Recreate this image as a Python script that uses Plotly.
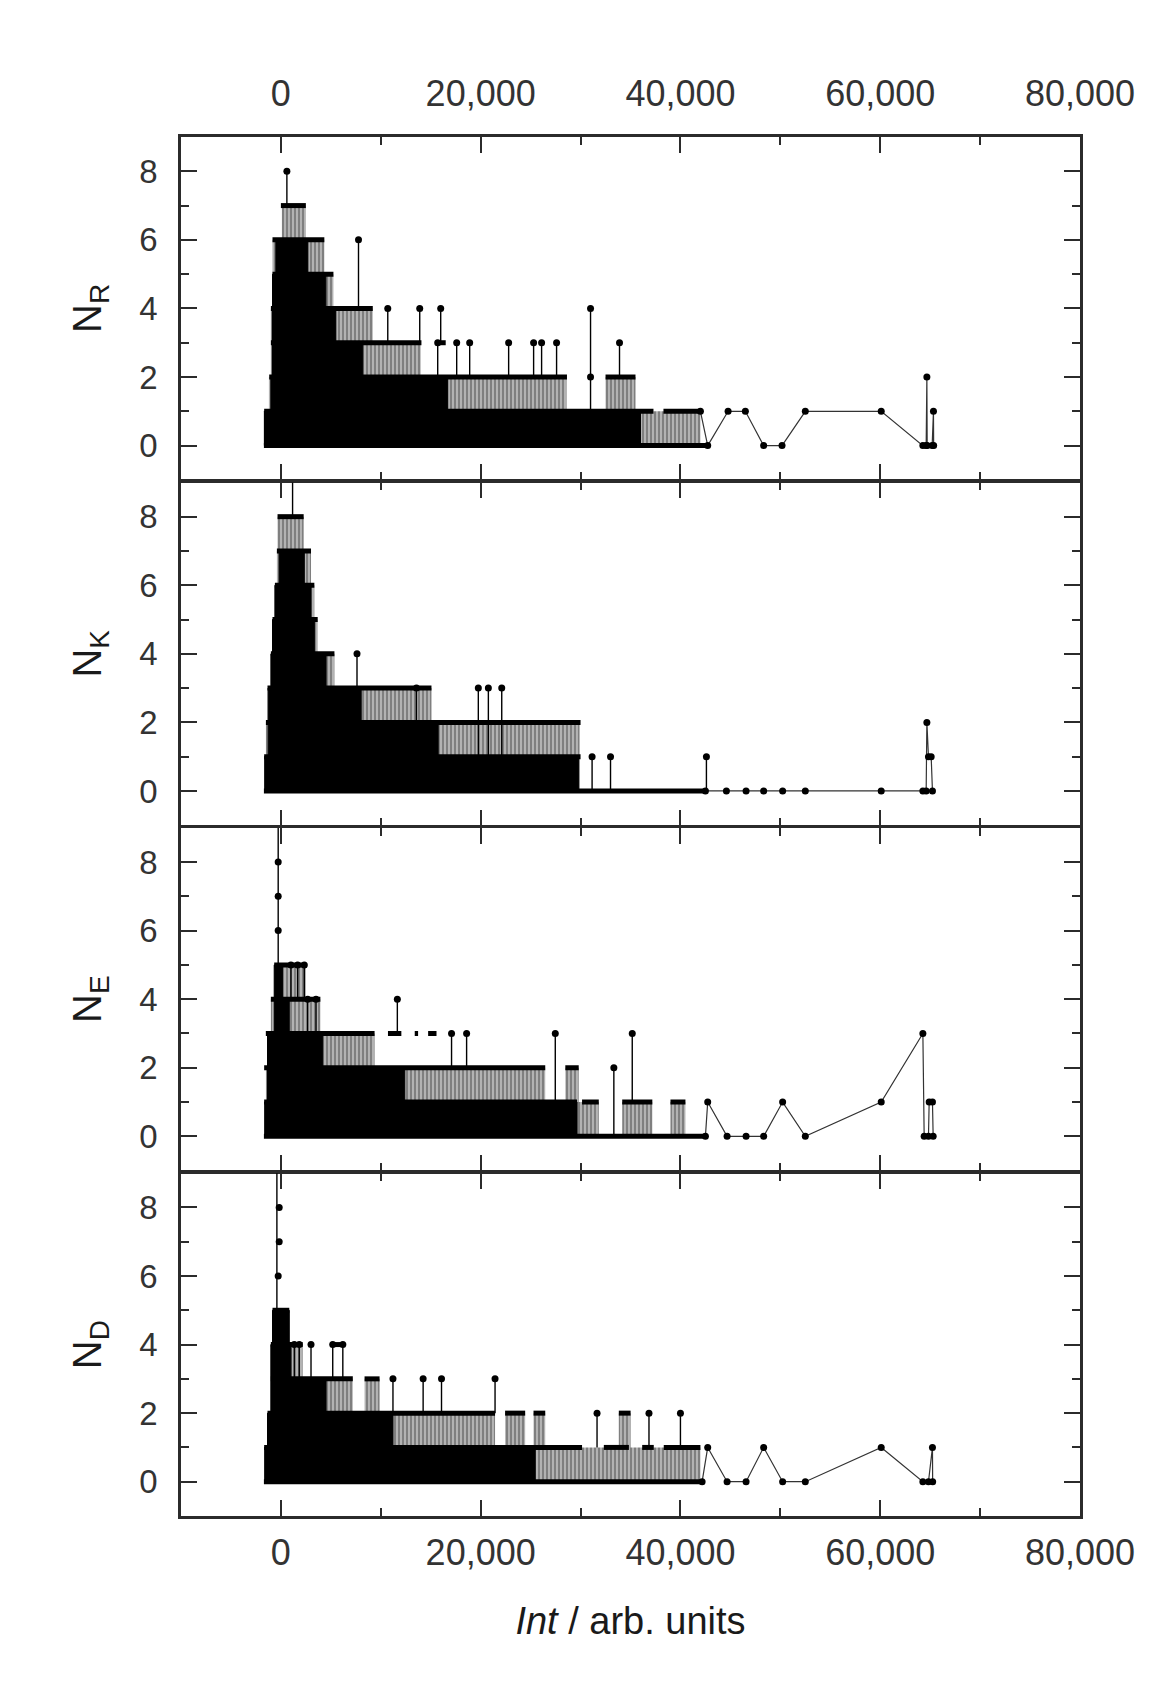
import plotly.graph_objects as go
from plotly.subplots import make_subplots

FONT = "Liberation Sans, Arial, sans-serif"
AX = "#2b2b2b"
TXT = "#333333"

panel_labels = ["N<sub>R</sub>", "N<sub>K</sub>", "N<sub>E</sub>", "N<sub>D</sub>"]
x_title = "<i>Int</i> / arb. units"
x_ticks = [0, 20000, 40000, 60000, 80000]
x_minor = [10000, 30000, 50000, 70000]
y_ticks = [0, 2, 4, 6, 8]
y_minor = [1, 3, 5, 7]

# ---------------- N_R ----------------
R_solid_x = [-1700, -1000, -840, -500, 2700, 4500, 5500, 8200, 16700, 36000]
R_solid_y = [1, 2, 5, 6, 5, 4, 3, 2, 1, 0]
R_hatch_x = [-1700, -1200, -1000, -850, 100, 2500, 4350, 5260, 9200, 14000, 28600, 32500, 35500, 42000]
R_hatch_y = [1, 2, 4, 6, 7, 6, 5, 4, 3, 2, 1, 2, 1, 0]
R_run_y = [7, 6, 5, 4, 3, 3, 2, 2, 1, 1, 0]
R_run_x0 = [0, -840, -840, -1000, -1000, 15600, -1170, 32500, -1675, 38300, -1700]
R_run_x1 = [2500, 4350, 5260, 9200, 14070, 16500, 28640, 35500, 37300, 42000, 42700]
R_spk_x = [600, 7770, 10700, 13900, 16000, 15700, 17600, 18900, 22800, 25300, 26100, 27600, 31000, 33900, 31000]
R_spk_top = [8, 6, 4, 4, 4, 3, 3, 3, 3, 3, 3, 3, 4, 3, 2]
R_spk_base = [7, 4, 3, 3, 3, 2, 2, 2, 2, 2, 2, 2, 1, 2, 2]
R_tail_x = [42000, 42730, 44770, 46500, 48330, 50170, 52500, 60100, 64270, 64600, 64670, 64700, 65200, 65330, 65350]
R_tail_y = [1, 0, 1, 1, 0, 0, 1, 1, 0, 0, 2, 0, 0, 1, 0]

# ---------------- N_K ----------------
K_solid_x = [-1675, -1270, -1000, -840, -600, -170, 2345, 3015, 3350, 4520, 8040, 15745, 29815]
K_solid_y = [1, 3, 4, 5, 6, 7, 6, 5, 4, 3, 2, 1, 0]
K_hatch_x = [-1675, -1500, -1340, -1000, -840, -600, -400, -335, 2280, 3015, 3350, 3685, 5360, 15075, 29900]
K_hatch_y = [1, 2, 3, 4, 5, 6, 7, 8, 7, 6, 5, 4, 3, 2, 0]
K_run_y = [8, 7, 6, 5, 4, 3, 2, 1, 0]
K_run_x0 = [-335, -400, -600, -840, -1000, -1340, -1500, -1675, -1700]
K_run_x1 = [2280, 3015, 3350, 3685, 5360, 15075, 30000, 30000, 42500]
K_spk_x = [1170, 7620, 13570, 19765, 20770, 22110, 31155, 33000, 42600]
K_spk_top = [10, 4, 3, 3, 3, 3, 1, 1, 1]
K_spk_base = [8, 3, 2, 1, 1, 1, 0, 0, 0]
K_tail_x = [42500, 44600, 46570, 48330, 50230, 52500, 60100, 64270, 64600, 64670, 64830, 65100, 65230]
K_tail_y = [0, 0, 0, 0, 0, 0, 0, 0, 0, 2, 1, 1, 0]

# ---------------- N_E ----------------
E_solid_x = [-1675, -1340, -670, 170, 840, 4190, 12400, 29650]
E_solid_y = [1, 3, 5, 4, 3, 2, 1, 0]
E_hatch_x = [-1675, -1500, -1340, -1000, -670, 2513, 3953, 9380, 26465, 28475, 29815, 31825, 34170, 37185, 39000, 40500]
E_hatch_y = [1, 2, 3, 4, 5, 4, 3, 2, 1, 2, 1, 0, 1, 0, 1, 0]
E_run_y = [5, 4, 3, 3, 3, 3, 2, 2, 1, 1, 1, 1, 0]
E_run_x0 = [-670, -1005, -1508, 10720, 13400, 14740, -1675, 28475, -1675, 30150, 34170, 39000, -1700]
E_run_x1 = [2513, 3953, 9380, 12060, 13735, 15578, 26465, 29815, 29648, 31825, 37185, 40500, 42500]
E_spk_x = [-270, -270, -270, -270, 1005, 1675, 2345, 2680, 3518, 11658, 17085, 18593, 27470, 33333, 35175]
E_spk_top = [10, 8, 7, 6, 5, 5, 5, 4, 4, 4, 3, 3, 3, 2, 3]
E_spk_base = [5, 8, 7, 6, 4, 4, 4, 3, 3, 3, 2, 2, 1, 0, 1]
E_tail_x = [42500, 42730, 44670, 46570, 48330, 50230, 52500, 60100, 64270, 64400, 64830, 64900, 65230, 65300]
E_tail_y = [0, 1, 0, 0, 0, 1, 0, 1, 3, 0, 0, 1, 1, 0]

# ---------------- N_D ----------------
D_solid_x = [-1675, -1340, -1005, -840, 840, 1005, 4520, 11220, 25460]
D_solid_y = [1, 2, 4, 5, 4, 3, 2, 1, 0]
D_hatch_x = [-1675, -1340, -1005, -840, 840, 2180, 7200, 8375, 9880, 21440, 22445, 24455, 25290, 26465, 33830, 35010, 42000]
D_hatch_y = [1, 2, 4, 5, 4, 3, 2, 3, 2, 1, 2, 1, 2, 1, 2, 1, 0]
D_run_y = [5, 4, 4, 3, 3, 2, 2, 2, 2, 1, 1, 1, 1, 0]
D_run_x0 = [-840, -1005, 5190, -1005, 8375, -1340, 22445, 25290, 33830, -1675, 32330, 36170, 38330, -1700]
D_run_x1 = [840, 2180, 6200, 7200, 9880, 21440, 24455, 26465, 35010, 30150, 34840, 37330, 42000, 42170]
D_spk_x = [-400, -170, -170, -270, 1340, 1840, 3015, 5190, 6200, 11220, 14240, 16080, 21440, 31650, 36850, 40000]
D_spk_top = [10, 8, 7, 6, 4, 4, 4, 4, 4, 3, 3, 3, 3, 2, 2, 2]
D_spk_base = [5, 8, 7, 6, 3, 3, 3, 3, 3, 2, 2, 2, 2, 1, 1, 1]
D_tail_x = [42170, 42730, 44670, 46570, 48330, 50230, 52500, 60100, 64270, 64830, 65230, 65250]
D_tail_y = [0, 1, 0, 0, 1, 0, 0, 1, 0, 0, 1, 0]

panels = [
    (R_solid_x, R_solid_y, R_hatch_x, R_hatch_y, R_run_y, R_run_x0, R_run_x1, R_spk_x, R_spk_top, R_spk_base, R_tail_x, R_tail_y),
    (K_solid_x, K_solid_y, K_hatch_x, K_hatch_y, K_run_y, K_run_x0, K_run_x1, K_spk_x, K_spk_top, K_spk_base, K_tail_x, K_tail_y),
    (E_solid_x, E_solid_y, E_hatch_x, E_hatch_y, E_run_y, E_run_x0, E_run_x1, E_spk_x, E_spk_top, E_spk_base, E_tail_x, E_tail_y),
    (D_solid_x, D_solid_y, D_hatch_x, D_hatch_y, D_run_y, D_run_x0, D_run_x1, D_spk_x, D_spk_top, D_spk_base, D_tail_x, D_tail_y),
]

# page body adds an 8px offset; figure sized so the frame lands where the reference has it
W, H = 1164, 1688
M_L, M_R, M_T, M_B = 173, 92, 129, 180
LW = 2.5
gap = LW / (H - M_T - M_B)

fig = make_subplots(rows=4, cols=1, vertical_spacing=gap)

for i, (sx, sy, hx, hy, ry, rx0, rx1, kx, ktop, kbase, tx, ty) in enumerate(panels):
    row = i + 1
    fig.add_trace(go.Scatter(
        x=hx, y=hy, mode="lines", line=dict(width=0, shape="hv", color="black"),
        fill="tozeroy", fillcolor="rgba(0,0,0,0)",
        fillpattern=dict(shape="|", fgcolor="black", bgcolor="rgba(255,255,255,0)", size=4, solidity=0.8),
        showlegend=False, hoverinfo="skip"), row=row, col=1)
    fig.add_trace(go.Scatter(
        x=sx, y=sy, mode="lines", line=dict(width=1, shape="hv", color="black"),
        fill="tozeroy", fillcolor="black", showlegend=False, hoverinfo="skip"), row=row, col=1)
    run_x, run_y = [], []
    for lvl, a, b in zip(ry, rx0, rx1):
        run_x += [a, b, None]
        run_y += [lvl, lvl, None]
    fig.add_trace(go.Scatter(
        x=run_x, y=run_y, mode="lines", line=dict(width=5, color="black"),
        showlegend=False, hoverinfo="skip"), row=row, col=1)
    fig.add_trace(go.Scatter(
        x=kx, y=ktop, mode="markers", marker=dict(size=7, color="black"),
        error_y=dict(type="data", symmetric=False, array=[0] * len(kx),
                     arrayminus=[t - b for t, b in zip(ktop, kbase)],
                     width=0, thickness=1.4, color="black"),
        showlegend=False, hoverinfo="skip"), row=row, col=1)
    fig.add_trace(go.Scatter(
        x=tx, y=ty, mode="lines+markers", line=dict(width=1.2, color="#333333"),
        marker=dict(size=7, color="black"), showlegend=False), row=row, col=1)

for i in range(4):
    row = i + 1
    fig.update_xaxes(
        row=row, col=1, range=[-10000, 80000], tickvals=x_ticks, tickformat=",d",
        ticks="inside", ticklen=16, tickwidth=2, tickcolor=AX,
        minor=dict(tickvals=x_minor, ticks="inside", ticklen=8, tickwidth=2, tickcolor=AX),
        showline=True, linewidth=LW, linecolor=AX, mirror="allticks",
        showgrid=False, zeroline=False,
        showticklabels=(row in (1, 4)), side=("top" if row == 1 else "bottom"),
        tickfont=dict(size=36, color=TXT, family=FONT),
        ticklabelstandoff=(14 if row == 1 else 3))
    fig.update_yaxes(
        row=row, col=1, range=[-1, 9], tickvals=y_ticks,
        ticks="inside", ticklen=16, tickwidth=2, tickcolor=AX,
        minor=dict(tickvals=y_minor, ticks="inside", ticklen=8, tickwidth=2, tickcolor=AX),
        showline=True, linewidth=LW, linecolor=AX, mirror="allticks",
        showgrid=False, zeroline=False,
        tickfont=dict(size=33, color=TXT, family=FONT), ticklabelstandoff=14,
        title=dict(text=panel_labels[i], font=dict(size=40, color="#1a1a1a", family=FONT), standoff=26))

fig.update_xaxes(row=4, col=1, title=dict(text=x_title, font=dict(size=38, color="#1a1a1a", family=FONT), standoff=36))

fig.update_layout(
    width=W, height=H,
    margin=dict(l=M_L, r=M_R, t=M_T, b=M_B),
    plot_bgcolor="white", paper_bgcolor="white",
    font=dict(family=FONT, color=TXT),
    showlegend=False,
)

fig.write_html("out.html")
